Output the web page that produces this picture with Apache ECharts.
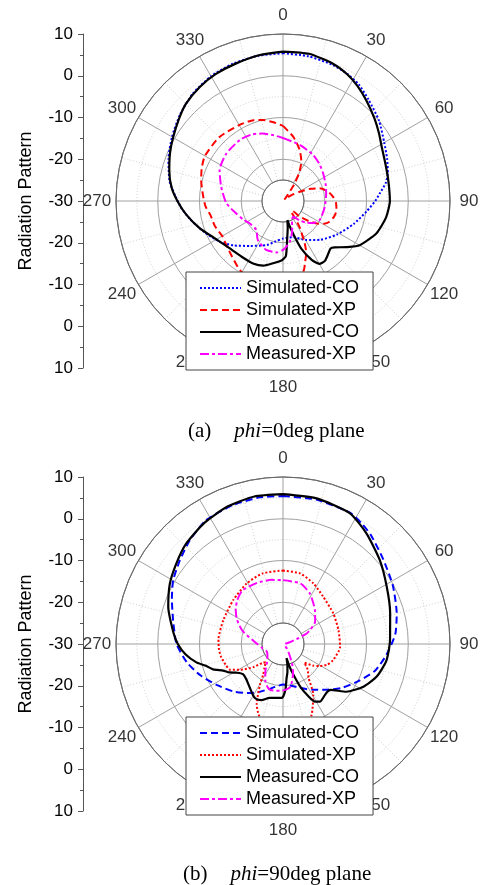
<!DOCTYPE html>
<html><head><meta charset="utf-8">
<script src="https://cdn.jsdelivr.net/npm/echarts@6/dist/echarts.min.js"></script>
<style>html,body{margin:0;padding:0;background:#fff;}#c{width:483px;height:885px;}</style>
</head><body><div id="c"></div>
<script>
// ---- data: [angle (deg), level (dB)] ----
const seriesNames = ['Simulated-CO', 'Simulated-XP', 'Measured-CO', 'Measured-XP'];
const yTickLabels = ['10', '0', '-10', '-20', '-30', '-20', '-10', '0', '10'];
const angleTicks = [0, 30, 60, 90, 120, 150, 180, 210, 240, 270, 300, 330];
const angleTickLabels = ['0', '30', '60', '90', '120', '150', '180', '210', '240', '270', '300', '330'];

const aSimCO = [[0,5.4],[10,5.2],[20,4.7],[27,4.1],[33,3.3],[40,1.8],[50,0.0],[60,-2.0],[68,-3.1],[75,-4.0],[80,-5.0],[85,-6.6],[90,-7.9],[97,-9.8],[108,-12.2],[122,-14.8],[136,-17.1],[150,-19.2],[164,-21.0],[180,-21.0],[190,-20.2],[200,-18.8],[216,-16.7],[228,-14.1],[237,-12.0],[249,-9.6],[259,-7.3],[266,-5.6],[273,-4.1],[280,-2.4],[290,-0.8],[300,0.7],[310,2.2],[320,3.6],[330,4.5],[340,5.0],[350,5.3],[360,5.4]];
const aSimXP = [[0,-12.0],[9,-14.4],[18,-17.1],[25,-19.6],[30,-22.3],[34,-25.3],[38,-28.3],[45,-29.5],[52,-28.5],[57,-27.0],[61,-25.4],[66,-22.8],[71,-20.7],[78,-19.0],[85,-18.0],[92,-17.3],[100,-17.0],[107,-17.2],[114,-17.8],[119,-18.8],[123,-20.0],[128,-22.2],[133,-24.5],[137,-26.8],[141,-26.8],[145,-24.8],[148,-22.3],[153,-18.5],[156,-16.3],[160,-14.5],[163,-12.8],[170,-10.0],[180,-9.0],[190,-9.0],[200,-9.5],[212,-10.5],[224,-12.1],[232,-12.8],[240,-13.2],[250,-12.6],[259,-12.3],[266,-11.4],[274,-10.8],[284,-9.8],[292,-9.0],[300,-8.4],[315,-8.4],[330,-9.0],[340,-9.4],[346,-10.0],[353,-11.0],[360,-12.0]];
const aMeasCO = [[0,5.8],[10,5.8],[20,5.0],[27,4.0],[33,2.8],[40,1.2],[48,-0.5],[55,-1.9],[61,-3.0],[70,-3.9],[79,-4.3],[90,-4.4],[99,-5.0],[109,-6.3],[120,-8.8],[126,-11.2],[132,-13.4],[135,-13.9],[139,-13.4],[145,-12.5],[150,-12.6],[154,-14.3],[159,-17.8],[162,-21.0],[165,-23.6],[167,-25.3],[170,-23.5],[174,-20.6],[177,-16.8],[181,-15.8],[189,-14.9],[197,-13.8],[205,-13.4],[215,-13.4],[229,-12.9],[240,-11.6],[252,-9.0],[262,-6.6],[270,-4.7],[277,-3.1],[285,-1.8],[293,-0.6],[300,0.4],[308,1.7],[315,2.9],[324,3.8],[332,4.4],[341,4.8],[351,5.4],[360,5.8]];
const aMeasXP = [[0,-14.9],[17,-16.0],[33,-16.8],[45,-17.6],[55,-18.3],[68,-19.0],[80,-19.5],[98,-19.9],[117,-20.1],[126,-21.0],[133,-22.4],[140,-24.0],[147,-25.5],[155,-25.0],[160,-23.5],[166,-21.5],[171,-20.0],[176,-19.0],[180,-18.3],[187,-17.6],[199,-17.6],[213,-18.9],[223,-20.6],[236,-20.4],[245,-19.5],[255,-18.4],[268,-16.4],[283,-14.8],[296,-13.1],[310,-12.3],[325,-12.1],[335,-12.4],[343,-13.1],[352,-14.1],[360,-14.9]];

const bSimCO = [[0,5.45],[13,5.5],[27,5.3],[33,4.5],[39,3.5],[50,1.4],[62,-0.2],[75,-1.8],[85,-3.0],[96,-5.1],[106,-7.0],[116,-9.8],[127,-12.5],[137,-15.0],[145,-16.6],[153,-17.9],[160,-18.9],[170,-19.9],[180,-20.3],[190,-19.6],[198,-18.6],[208,-16.9],[216,-15.5],[226,-13.6],[238,-11.4],[249,-8.9],[259,-6.6],[270,-4.5],[282,-3.1],[292,-1.3],[300,0.4],[309,1.8],[318,3.4],[328,4.9],[340,5.36],[351,5.56],[360,5.45]];
const bSimXP = [[0,-12.4],[13.5,-12.6],[26.6,-13.75],[40,-15.1],[58.6,-15.9],[76,-16.3],[93,-16.3],[98,-16.6],[108,-17.4],[115,-18.3],[121,-19.8],[126,-21.2],[131,-23.2],[136,-21.5],[143,-19.8],[149,-15.9],[158,-11.7],[165,-9.5],[180,-8.5],[192,-9.8],[199,-12.1],[203.5,-14.2],[209.5,-18.8],[213,-21.3],[218,-22.8],[223.5,-24.0],[227,-23.5],[232,-21.0],[239,-18.0],[244,-15.9],[250,-15.4],[259,-14.8],[266,-14.6],[274,-14.5],[292,-14.6],[311.5,-14.1],[329,-13.1],[344,-12.4],[360,-12.4]];
const bMeasCO = [[0,5.9],[13,5.8],[27,5.2],[37,3.2],[49,0.7],[61,-1.6],[74,-3.3],[88,-4.35],[99,-4.9],[109,-6.2],[118,-8.2],[127,-11.0],[134,-14.2],[137,-14.4],[140.5,-14.2],[147,-13.6],[151,-14.2],[154,-16.0],[158,-19.0],[161,-22.0],[164,-24.5],[166,-26.5],[168,-25.0],[171,-23.2],[174,-21.8],[177,-19.0],[181,-17.1],[187,-17.0],[194,-16.7],[201,-15.6],[207,-15.4],[211,-15.9],[220,-17.2],[226,-17.8],[233,-18.0],[238,-17.0],[242,-15.5],[246,-14.3],[250,-12.2],[254,-10.9],[258,-8.8],[264,-6.5],[270,-4.8],[276,-3.6],[288,-1.1],[298,0.7],[307,2.0],[316,3.4],[327,4.6],[338,5.5],[349,6.0],[360,5.9]];
const bMeasXP = [[0,-14.7],[16,-14.9],[28,-16.3],[43,-18.8],[55,-20.6],[62,-22.5],[66,-23.8],[70,-26.5],[76,-28.5],[90,-29.5],[120,-29.5],[140,-28.5],[147,-27.5],[151,-26.5],[156,-24.5],[161,-22.6],[170,-19.6],[177,-19.0],[184,-18.8],[192,-18.6],[198,-18.8],[205,-20.0],[212,-22.0],[220,-24.0],[226,-24.8],[236,-25.5],[246,-25.7],[258,-25.0],[271,-23.7],[288,-19.8],[298,-17.5],[306,-16.0],[314,-14.8],[323,-13.9],[337,-14.1],[350,-14.4],[360,-14.7]];

// ---- layout / styles ----
const SANS = 'Liberation Sans', SERIF = 'Liberation Serif';
const CX = 283, CY = [201, 644], R = 167, R0 = 21, RLAB = 186;
const DOT = [2, 2], DASH = [7, 4], DASHDOT = [9, 3, 3, 3];
const GRID_C = '#a0a0a0', MINOR_C = '#d0d0d0';

const polar = [], angleAxis = [], radiusAxis = [], labelSeries = [];
const hiddenAngle = pi => ({polarIndex: pi, type: 'value', min: 0, max: 360, startAngle: 90, clockwise: true,
  axisLine: {show: false}, axisTick: {show: false}, axisLabel: {show: false}, splitLine: {show: false}});
const hiddenRadius = pi => ({polarIndex: pi, type: 'value', min: 0, max: 1,
  axisLine: {show: false}, axisTick: {show: false}, axisLabel: {show: false}, splitLine: {show: false}});
CY.forEach((cy, k) => {
  const g = 3 * k, d = 3 * k + 1, l = 3 * k + 2;
  polar.push({center: [CX, cy], radius: [R0, R]});
  polar.push({center: [CX, cy], radius: [0, R]});
  polar.push({center: [CX, cy], radius: [0, RLAB]});
  angleAxis.push({polarIndex: g, type: 'value', min: 0, max: 360, interval: 30, startAngle: 90, clockwise: true,
    axisLine: {show: true, lineStyle: {color: '#666', width: 1}}, axisTick: {show: false},
    axisLabel: {show: false},
    splitLine: {show: true, lineStyle: {color: GRID_C, width: 1}},
    minorTick: {show: false, splitNumber: 2},
    minorSplitLine: {show: true, lineStyle: {color: MINOR_C, width: 1, type: [1, 2]}}});
  angleAxis.push(hiddenAngle(d));
  angleAxis.push(hiddenAngle(l));
  radiusAxis.push({polarIndex: g, type: 'value', min: 0, max: 1, interval: 1,
    axisLine: {show: false}, axisTick: {show: false}, axisLabel: {show: false},
    splitLine: {show: true, lineStyle: {color: GRID_C, width: 1}}});
  radiusAxis.push({polarIndex: d, type: 'value', min: -30, max: 10, interval: 10,
    axisLine: {show: false}, axisTick: {show: false}, axisLabel: {show: false},
    splitLine: {show: true, lineStyle: {color: GRID_C, width: 1}},
    minorTick: {show: false, splitNumber: 2},
    minorSplitLine: {show: true, lineStyle: {color: MINOR_C, width: 1, type: [1, 2]}}});
  radiusAxis.push(hiddenRadius(l));
  labelSeries.push({type: 'scatter', coordinateSystem: 'polar', polarIndex: l, silent: true, z: 1,
    symbolSize: 0.01, itemStyle: {color: 'rgba(0,0,0,0)'},
    data: angleTicks.map((a, i) => ({value: [1, a], name: angleTickLabels[i]})),
    label: {show: true, position: 'inside', formatter: p => p.name, color: '#000', fontSize: 17, fontFamily: SANS}});
});

function line(name, pts, color, type, width, pi) {
  return {type: 'line', name, coordinateSystem: 'polar', polarIndex: pi,
    data: pts.map(p => [p[1], p[0]]), symbol: 'none', smooth: 0.2, silent: true,
    lineStyle: {color, type, width}, itemStyle: {color}, z: 3};
}
const SUF = '\u00b7b';
const series = [
  line(seriesNames[0], aSimCO, '#0000ff', DOT, 2, 1),
  line(seriesNames[1], aSimXP, '#ff0000', DASH, 2, 1),
  line(seriesNames[2], aMeasCO, '#000000', 'solid', 2.2, 1),
  line(seriesNames[3], aMeasXP, '#ff00ff', DASHDOT, 2, 1),
  line(seriesNames[0] + SUF, bSimCO, '#0000ff', DASH, 2, 4),
  line(seriesNames[1] + SUF, bSimXP, '#ff0000', DOT, 2, 4),
  line(seriesNames[2] + SUF, bMeasCO, '#000000', 'solid', 2.2, 4),
  line(seriesNames[3] + SUF, bMeasXP, '#ff00ff', DASHDOT, 2, 4),
  ...labelSeries
];

function legend(top, names) {
  return {left: 186, top, orient: 'vertical', padding: [6, 14, 6, 13], itemGap: 2, itemWidth: 41, itemHeight: 12,
    backgroundColor: '#fff', borderColor: '#444', borderWidth: 1, selectedMode: false, z: 10,
    itemStyle: {opacity: 0, borderWidth: 0},
    textStyle: {fontSize: 18, fontFamily: SANS, color: '#000', lineHeight: 20},
    data: names, formatter: n => n.split(SUF)[0]};
}

function yAx(gi) {
  return {gridIndex: gi, type: 'value', min: -40, max: 40, interval: 10, position: 'left',
    axisLine: {show: true, lineStyle: {color: '#555'}},
    axisTick: {show: true, length: 5, lineStyle: {color: '#555'}},
    minorTick: {show: true, splitNumber: 2, length: 3, lineStyle: {color: '#555'}},
    splitLine: {show: false},
    axisLabel: {margin: 10, fontSize: 17, color: '#000', fontFamily: SANS, formatter: (v, i) => yTickLabels[i]},
    name: 'Radiation Pattern', nameLocation: 'middle', nameGap: 48, nameRotate: 90,
    nameTextStyle: {fontSize: 18, color: '#000', fontFamily: SANS}};
}

const cap = {fontFamily: SERIF, fontSize: 21, color: '#000', fontWeight: 'normal'};
const rich = {
  a: Object.assign({}, cap, {padding: [0, 23, 0, 0]}),
  i: Object.assign({}, cap, {fontStyle: 'italic'}),
  n: Object.assign({}, cap)
};

const chart = echarts.init(document.getElementById('c'), null, {renderer: 'canvas'});
chart.setOption({
  animation: false,
  backgroundColor: '#fff',
  title: [
    {text: '{a|(a)}{i|phi}{n|=0deg plane}', left: 183, top: 416, textStyle: Object.assign({}, cap, {rich})},
    {text: '{a|(b)}{i|phi}{n|=90deg plane}', left: 178, top: 859, textStyle: Object.assign({}, cap, {rich})}
  ],
  grid: [{left: 83, top: 34, width: 10, height: 334}, {left: 83, top: 477, width: 10, height: 334}],
  xAxis: [{gridIndex: 0, type: 'value', show: false}, {gridIndex: 1, type: 'value', show: false}],
  yAxis: [yAx(0), yAx(1)],
  polar, angleAxis, radiusAxis,
  legend: [legend(272, seriesNames), legend(717, seriesNames.map(n => n + SUF))],
  series
});
</script></body></html>
